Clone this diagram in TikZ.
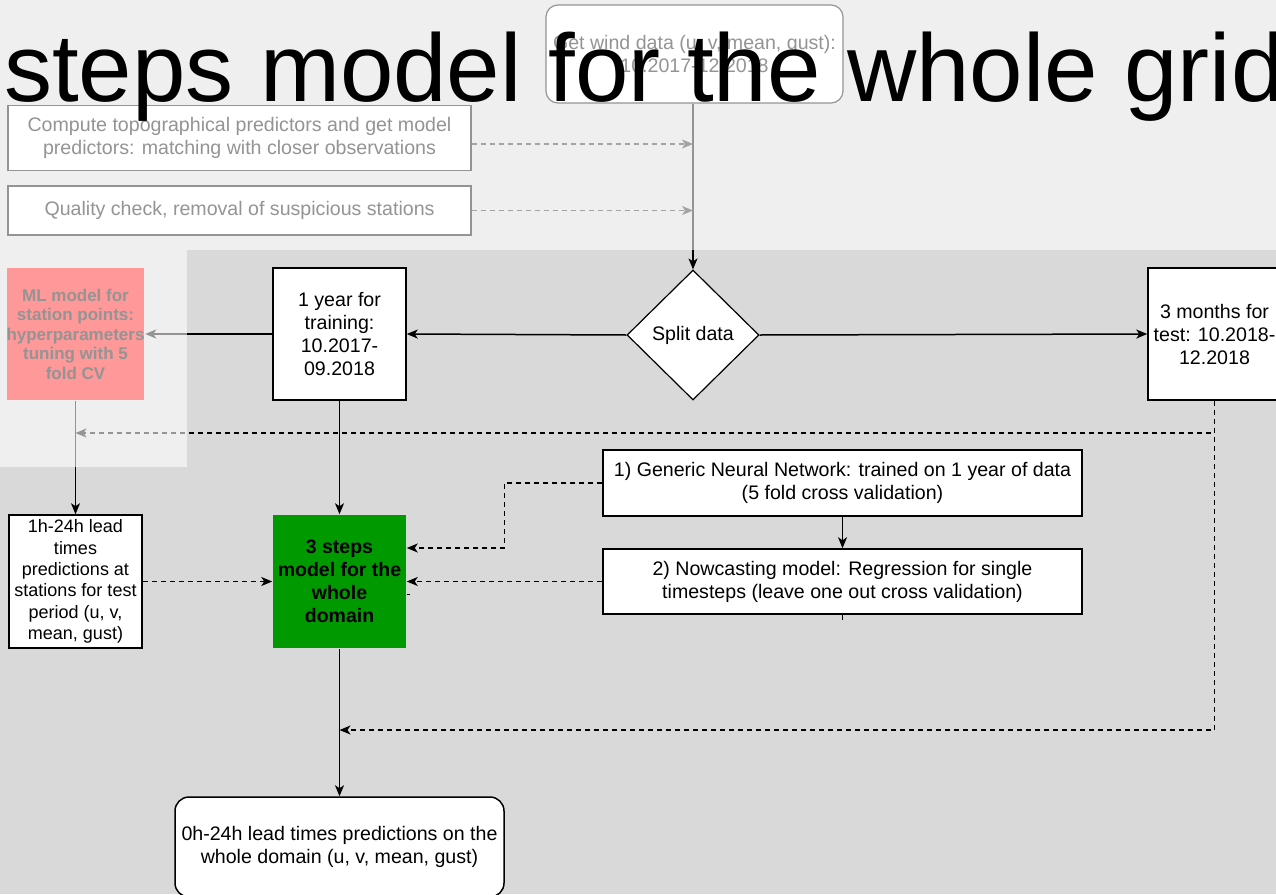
\documentclass[tikz,border=0pt]{standalone}
\usepackage{fontspec}
\setmainfont{Liberation Sans}
\usetikzlibrary{shapes.geometric,arrows.meta}
\definecolor{bggray}{HTML}{D9D9D9}
\definecolor{dgreen}{HTML}{009900}
\definecolor{mlred}{HTML}{FF0A0A}
\newcommand\myfs{\fontsize{19.6}{23}\selectfont}
\newcommand\mysmall{\fontsize{18}{21.3}\selectfont}
\newcommand\mymlfs{\fontsize{17}{19.5}\selectfont\bfseries}
\newcommand\myboldfs{\fontsize{19.5}{23}\selectfont\bfseries}
\begin{document}
\begin{tikzpicture}[x=1pt,y=-1pt,
  box/.style={draw=black, line width=1.5pt, fill=white, align=center, font=\myfs, inner sep=0pt},
  conn/.style={line width=1.5pt, -{Stealth[length=11pt,width=9pt,inset=3pt]}},
  dconn/.style={conn, dash pattern=on 5pt off 4pt},
  gconn/.style={line width=1.2pt, draw=black!85, dash pattern=on 5pt off 4pt, -{Stealth[length=11pt,width=9pt,inset=3pt]}},
]
\useasboundingbox (0,0) rectangle (1276,894);
\fill[bggray] (0,0) rectangle (1276,894);

% top (faded) part
\node[box, rounded corners=12pt, line width=1.2pt, minimum width=297pt, minimum height=98pt] (wind) at (694.5,54) {Get wind data (u, v, mean, gust):\\10.2017-12.2018};
\node[box, line width=1.2pt, minimum width=463pt, minimum height=65pt] (compute) at (239.5,138) {Compute topographical predictors and get model\\predictors: matching with closer observations};
\node[box, line width=1.2pt, minimum width=463pt, minimum height=49pt] (quality) at (239.5,210.5) {Quality check, removal of suspicious stations};

% main nodes
\node[box, minimum width=133pt, minimum height=132pt] (year) at (339.5,334) {1 year for\\training:\\10.2017-\\09.2018};
\node[diamond, draw=black, line width=1.2pt, fill=white, font=\myfs, inner sep=0pt, minimum width=132pt, minimum height=130pt] (split) at (693,335) {Split data};
\node[box, minimum width=133pt, minimum height=132pt] (test) at (1214.5,334) {3 months for\\test: 10.2018-\\12.2018};
\node[box, draw=none, fill=mlred, font=\mymlfs, minimum width=133pt, minimum height=132pt] (ml) at (75.5,334) {ML model for\\station points:\\hyperparameters\\tuning with 5\\fold CV};
\node[box, font=\mysmall, minimum width=133pt, minimum height=133pt] (lead) at (75.5,581.5) {1h-24h lead\\times\\predictions at\\stations for test\\period (u, v,\\mean, gust)};
\node[box, draw=none, fill=dgreen, font=\myboldfs, minimum width=133pt, minimum height=133pt] (steps) at (339.5,581.5) {3 steps\\model for the\\whole\\domain};
\node[box, minimum width=479pt, minimum height=66pt] (nn) at (842.5,483) {1) Generic Neural Network: trained on 1 year of data\\(5 fold cross validation)};
\node[box, minimum width=479pt, minimum height=65pt] (now) at (842.5,581.5) {2) Nowcasting model: Regression for single\\timesteps (leave one out cross validation)};
\node[box, rounded corners=14pt, minimum width=329pt, minimum height=100pt] (out) at (339.5,847) {0h-24h lead times predictions on the\\whole domain (u, v, mean, gust)};

\coordinate (j1) at (75.5,433);
\coordinate (j2) at (339.5,730);

% connectors
\draw[conn] (split.north |- wind.south) -- (split.north);
\draw[gconn] ([yshift=-6pt]compute.east) -- ([yshift=-6pt]compute.east -| split.north);
\draw[gconn] (quality.east) -- (quality.east -| split.north);
\draw[conn] (split.west) -- (year.east);
\draw[conn] (split.east) -- (test.west);
\draw[conn] (year.west) -- (ml.east);
\draw[conn] (ml.south) -- (lead.north);
\draw[conn] (year.south) -- (steps.north);
\draw[dconn] (test.south) |- (j1);
\draw[dconn] (test.south) |- (j2);
\draw[dconn] (lead.east) -- (steps.west);
\draw[dconn] (nn.west) -- ++(-98,0) |- ([yshift=33.5pt]steps.east);
\draw[dconn] (now.west) -- (steps.east);
\draw[conn] (nn.south) -- (now.north);
\draw[conn] (steps.south) -- (out.north);
\draw[line width=1pt] (now.south) -- ++(0,5);
\draw[line width=1pt] ([yshift=-13pt]steps.east) -- ++(3,0);

% faded overlay
\fill[white, opacity=0.58] (0,0) rectangle (1276,250);
\fill[white, opacity=0.58] (0,250) rectangle (187,467);

% big title
\node[anchor=base west, inner sep=0pt, font=\fontsize{96}{100}\selectfont] (title) at (4,101) {steps model for the whole grid};
\end{tikzpicture}
\end{document}
